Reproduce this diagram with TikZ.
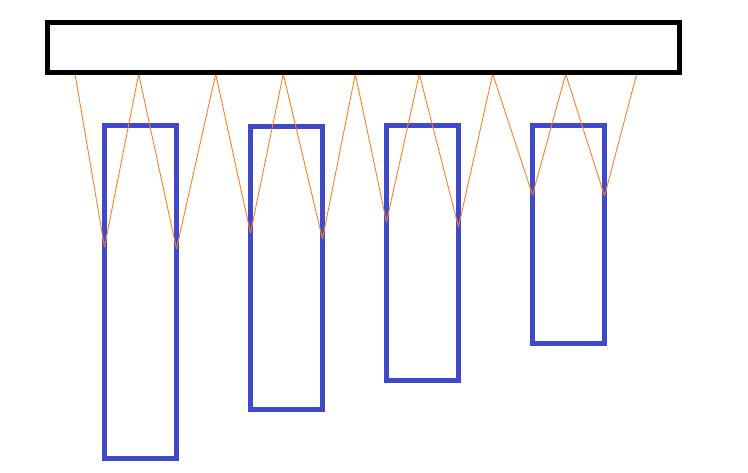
\documentclass[tikz,border=0pt]{standalone}
\usepackage{tikz}

\definecolor{barblue}{RGB}{64,72,204}
\definecolor{wireorange}{RGB}{255,127,39}
\tikzstyle{b} = [draw=barblue, line width=5pt, minimum width=72pt, inner sep=0pt, outer sep=0pt]

\begin{document}
\begin{tikzpicture}[x=1pt,y=-1pt,
			top/.style = {draw=black, line width=5pt, minimum width=631.5pt, minimum height=50pt, inner sep=0pt},
			wire/.style = {draw=wireorange, line width=0.9pt}]
			\useasboundingbox (0,0) rectangle (748,473);
			% blue bars
			\node (1)[b, minimum height=333pt] at (140.5,292) {};
			\node (2)[b, minimum height=283pt] at (286.5,268) {};
			\node (3)[b, minimum height=255pt] at (422.5,253) {};
			\node (4)[b, minimum height=218pt] at (568.5,234.5) {};
			
			% points on the top plate
			\coordinate (t1) at (75,74);
			\coordinate (t2) at (138.7,74);
			\coordinate (t3) at (215.7,74);
			\coordinate (t4) at (283.3,74);
			\coordinate (t5) at (355.3,74);
			\coordinate (t6) at (419.3,74);
			\coordinate (t7) at (492.7,74);
			\coordinate (t8) at (565.7,74);
			\coordinate (t9) at (636.7,74);
			% points on the bar sides
			\coordinate (v1) at (1.west |- 0,247);
			\coordinate (v2) at (1.east |- 0,249);
			\coordinate (v3) at (2.west |- 0,233);
			\coordinate (v4) at (2.east |- 0,239);
			\coordinate (v5) at (3.west |- 0,222);
			\coordinate (v6) at (3.east |- 0,227);
			\coordinate (v7) at (4.west |- 0,195);
			\coordinate (v8) at (4.east |- 0,196);
			
			\draw[wire] (t1) -- (v1);
			\draw[wire] (v1) -- (t2);
			\draw[wire] (t2) -- (v2);
			\draw[wire] (v2) -- (t3);
			\draw[wire] (t3) -- (v3);
			\draw[wire] (v3) -- (t4);
			\draw[wire] (t4) -- (v4);
			\draw[wire] (v4) -- (t5);
			\draw[wire] (t5) -- (v5);
			\draw[wire] (v5) -- (t6);
			\draw[wire] (t6) -- (v6);
			\draw[wire] (v6) -- (t7);
			\draw[wire] (t7) -- (v7);
			\draw[wire] (v7) -- (t8);
			\draw[wire] (t8) -- (v8);
			\draw[wire] (v8) -- (t9);
			
			% top plate
			\node (0)[top] at (363.25,47.5) {};
		\end{tikzpicture}
\end{document}
